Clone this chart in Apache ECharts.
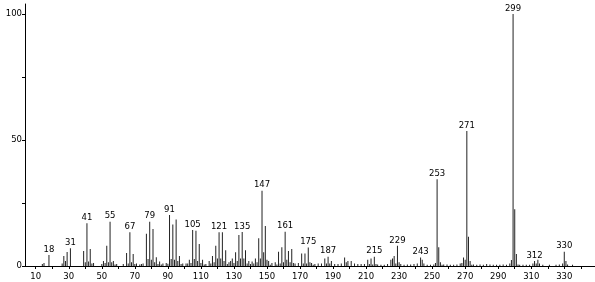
<!DOCTYPE html>
<html><head><meta charset="utf-8">
<script src="https://cdn.jsdelivr.net/npm/echarts@6/dist/echarts.min.js"></script>
<style>html,body{margin:0;padding:0;background:#fff}#c{width:595px;height:282px}</style>
</head><body><div id="c"></div>
<script>
// m/z values and relative intensities (%)
const masses = [14,15,18,26,27,28,29,31,39,40,41,42,43,44,45,50,51,52,53,54,55,56,57,58,59,63,65,66,67,68,69,70,71,73,74,75,77,78,79,80,81,82,83,84,85,86,87,89,90,91,92,93,94,95,96,97,98,99,101,102,103,104,105,106,107,108,109,110,111,112,113,115,116,117,118,119,120,121,122,123,124,125,126,127,128,129,130,131,132,133,134,135,136,137,138,139,140,141,142,143,144,145,146,147,148,149,150,151,152,153,155,156,157,158,159,160,161,162,163,164,165,166,167,169,171,172,173,174,175,176,177,178,179,181,183,185,186,187,188,189,191,193,195,197,198,199,201,203,205,207,209,211,212,213,214,215,216,217,219,221,223,225,226,227,228,229,230,231,233,235,237,239,241,243,244,245,247,249,251,252,253,254,255,256,257,259,261,263,265,267,268,269,270,271,272,273,274,275,277,279,281,283,285,287,289,291,293,295,297,298,299,300,301,302,303,305,307,309,311,312,313,314,315,317,321,325,327,329,330,331,332,335];
const intensities = [0.8,1.2,4.4,1.0,4.0,2.0,5.6,7.0,6.0,1.5,17.0,1.8,6.7,1.0,1.2,0.8,2.0,1.2,8.0,1.5,17.6,1.5,2.0,0.6,0.8,0.8,5.2,1.0,13.4,1.5,4.8,0.8,1.0,0.6,0.8,1.0,12.8,2.8,17.6,2.5,14.7,1.5,3.5,0.8,1.8,0.6,1.0,1.2,0.9,20.2,2.8,16.5,2.5,18.5,2.0,4.0,0.8,1.0,1.0,1.0,2.5,1.2,14.3,2.8,14.0,2.0,8.7,1.2,2.5,0.6,0.8,2.0,1.0,4.0,1.5,8.0,3.0,13.4,3.0,13.4,2.0,6.3,0.8,1.5,2.0,3.0,1.2,5.5,2.0,12.3,3.0,13.5,3.0,6.3,1.0,2.0,0.8,1.8,1.0,3.0,1.5,11.0,3.0,29.9,5.5,15.9,2.5,2.0,0.5,1.2,1.5,0.6,5.7,1.0,7.4,1.5,13.6,2.5,6.0,1.5,6.7,1.2,1.0,1.2,5.0,1.0,5.0,1.0,7.3,1.5,1.2,0.5,0.8,1.0,1.0,3.0,1.0,3.7,1.0,2.0,0.8,0.8,1.0,3.4,1.5,2.0,2.0,1.0,0.8,0.8,0.8,2.5,0.8,3.0,0.6,3.7,0.8,0.6,0.5,0.5,0.8,2.5,3.0,4.0,1.0,8.0,1.5,0.8,0.5,0.6,0.6,0.8,1.0,3.4,2.5,1.0,0.5,0.5,0.6,1.2,34.4,7.4,1.5,0.5,0.6,0.6,0.5,0.5,0.6,1.0,1.2,3.4,2.5,53.6,11.6,2.0,0.5,0.6,0.5,0.6,0.5,0.8,0.6,0.5,0.5,0.5,0.6,0.5,1.0,2.4,100,22.5,4.8,0.6,0.5,0.5,0.5,0.5,1.0,2.0,1.0,2.5,1.0,0.5,0.5,0.5,0.6,1.0,5.7,2.0,0.6,0.5];
const labeledMasses = [18,31,41,55,67,79,91,105,121,135,147,161,175,187,215,229,243,253,271,299,312,330];
const xTicks = [10,20,30,40,50,60,70,80,90,100,110,120,130,140,150,160,170,180,190,200,210,220,230,240,250,260,270,280,290,300,310,320,330,340];
const xTickLabels = [10,30,50,70,90,110,130,150,170,190,210,230,250,270,290,310,330];
const yTicks = [0,25,50,75,100];
const yTickLabels = [0,50,100];

const data = masses.map((m, i) => ({
  value: [m, intensities[i]],
  label: { show: labeledMasses.includes(m) }
}));

const chart = echarts.init(document.getElementById('c'));
const font = { fontFamily: 'DejaVu Sans', fontSize: 8.5, color: '#000' };
chart.setOption({
  animation: false,
  grid: { left: 25, right: 0, top: 4, bottom: 16, containLabel: false },
  xAxis: {
    type: 'value', min: 3.5, max: 348.6,
    splitLine: { show: false },
    axisLine: { lineStyle: { color: '#000', width: 1 } },
    axisTick: { customValues: xTicks, length: 3, lineStyle: { color: '#000' } },
    axisLabel: Object.assign({ customValues: xTickLabels, margin: 6 }, font)
  },
  yAxis: {
    type: 'value', min: 0, max: 104,
    splitLine: { show: false },
    axisLine: { show: true, lineStyle: { color: '#000', width: 1 } },
    axisTick: { show: true, customValues: yTicks, length: 3, lineStyle: { color: '#000' } },
    axisLabel: Object.assign({ customValues: yTickLabels, margin: 3 }, font)
  },
  series: [{
    type: 'bar',
    barWidth: 1,
    itemStyle: { color: '#222' },
    label: Object.assign({ position: 'top', distance: 1, formatter: p => p.value[0] }, font),
    data: data
  }]
});
</script></body></html>
